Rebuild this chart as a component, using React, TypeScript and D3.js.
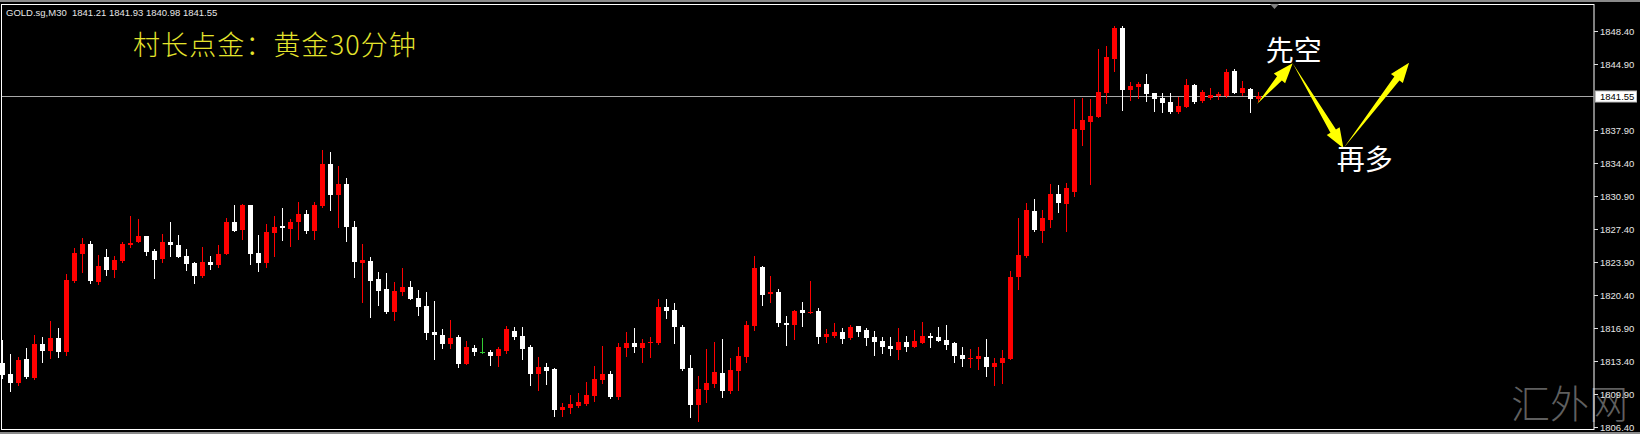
import React from "react";
import * as d3 from "d3";

const W = 1640;
const H = 434;

const headerText = "GOLD.sg,M30  1841.21 1841.93 1840.98 1841.55";
const titleText = "村长点金：黄金30分钟";
const watermarkText = "汇外网";
const currentPrice = 1841.55;
const axisTicks = [1848.4, 1844.9, 1837.9, 1834.4, 1830.9, 1827.4, 1823.9, 1820.4, 1816.9, 1813.4, 1809.9, 1806.4];

const openP = [
  1813.19, 1812.02, 1811.07, 1813.61, 1811.65, 1815.21, 1814.46, 1815.84, 1814.35, 1821.89,
  1824.75, 1825.81, 1821.83, 1824.43, 1823.05, 1824.01, 1825.67, 1826.06, 1826.66, 1825.07,
  1824.19, 1826.06, 1825.71, 1824.54, 1823.83, 1822.42, 1823.90, 1823.55, 1824.78, 1828.14,
  1827.30, 1829.95, 1824.83, 1823.80, 1826.95, 1827.72, 1827.37, 1828.14, 1828.99, 1827.22,
  1829.84, 1834.30, 1831.01, 1832.17, 1827.65, 1823.83, 1824.01, 1822.07, 1821.01, 1818.63,
  1820.69, 1821.28, 1820.12, 1819.24, 1816.48, 1816.16, 1815.21, 1815.95, 1813.05, 1814.78,
  1814.32, 1814.39, 1813.93, 1814.43, 1816.62, 1816.09, 1814.92, 1812.00, 1812.80, 1812.50,
  1808.21, 1808.39, 1808.65, 1808.81, 1809.69, 1811.39, 1812.02, 1809.58, 1814.83, 1815.28,
  1814.81, 1815.28, 1815.28, 1819.10, 1818.81, 1817.04, 1812.69, 1808.74, 1810.33, 1810.96,
  1812.10, 1810.25, 1812.37, 1813.86, 1817.11, 1823.32, 1820.51, 1820.75, 1817.47, 1817.22,
  1818.81, 1818.46, 1818.74, 1815.92, 1816.09, 1816.51, 1815.81, 1817.11, 1816.69, 1815.98,
  1815.56, 1814.99, 1814.57, 1815.45, 1814.92, 1815.34, 1816.05, 1815.92, 1815.63, 1815.34,
  1814.04, 1813.58, 1813.58, 1813.86, 1812.73, 1813.16, 1813.58, 1822.34, 1824.54, 1829.34,
  1827.22, 1828.36, 1831.11, 1830.05, 1831.29, 1837.90, 1838.78, 1839.25, 1841.86, 1845.40,
  1848.75, 1842.14, 1842.43, 1842.78, 1841.79, 1841.33, 1840.90, 1839.84, 1840.31, 1842.67,
  1841.00, 1841.26, 1841.51, 1841.54, 1844.16, 1841.86, 1842.22, 1841.21,
];

const highP = [
  1815.63, 1814.14, 1813.83, 1814.78, 1816.21, 1815.95, 1817.64, 1816.90, 1822.63, 1825.39,
  1826.45, 1826.13, 1824.64, 1825.33, 1824.54, 1826.02, 1828.78, 1828.46, 1826.71, 1825.33,
  1826.92, 1828.18, 1826.77, 1825.25, 1823.93, 1825.53, 1824.54, 1825.71, 1828.54, 1829.95,
  1830.02, 1829.98, 1826.77, 1827.93, 1828.78, 1829.60, 1828.43, 1830.27, 1829.42, 1830.27,
  1835.78, 1835.60, 1834.08, 1832.78, 1828.28, 1825.78, 1824.40, 1822.87, 1822.70, 1821.81,
  1823.23, 1821.89, 1820.96, 1820.72, 1819.80, 1816.76, 1817.70, 1816.21, 1815.56, 1815.10,
  1815.79, 1814.60, 1814.89, 1817.11, 1816.98, 1817.04, 1815.10, 1813.79, 1813.22, 1812.71,
  1808.98, 1809.78, 1810.04, 1811.21, 1812.87, 1814.99, 1812.34, 1815.31, 1816.51, 1816.87,
  1815.77, 1815.98, 1819.95, 1819.98, 1819.52, 1817.22, 1814.04, 1811.81, 1814.64, 1815.45,
  1815.74, 1813.69, 1814.86, 1817.68, 1824.54, 1823.48, 1822.42, 1821.01, 1818.18, 1818.81,
  1819.69, 1821.92, 1818.99, 1816.76, 1817.40, 1816.87, 1817.22, 1817.14, 1816.87, 1816.58,
  1815.92, 1815.92, 1816.87, 1816.05, 1816.69, 1817.57, 1816.40, 1816.98, 1817.22, 1815.45,
  1814.86, 1814.64, 1814.86, 1815.70, 1813.69, 1814.57, 1822.98, 1828.54, 1830.13, 1830.55,
  1829.42, 1832.17, 1832.07, 1832.31, 1841.16, 1841.26, 1841.16, 1846.46, 1846.81, 1848.93,
  1848.93, 1843.02, 1843.02, 1843.84, 1841.83, 1841.86, 1841.79, 1841.37, 1843.28, 1842.78,
  1842.14, 1842.32, 1841.96, 1844.34, 1844.34, 1843.13, 1842.32, 1841.93,
];

const lowP = [
  1811.60, 1810.22, 1810.86, 1811.60, 1811.54, 1813.29, 1813.72, 1813.83, 1814.04, 1821.78,
  1822.84, 1821.68, 1821.57, 1822.52, 1822.31, 1823.90, 1825.53, 1825.99, 1824.64, 1822.17,
  1823.93, 1824.54, 1824.43, 1823.05, 1821.64, 1822.34, 1823.13, 1823.37, 1824.72, 1827.19,
  1826.31, 1823.72, 1822.98, 1823.37, 1824.54, 1826.24, 1825.60, 1826.34, 1826.95, 1826.34,
  1829.77, 1829.42, 1827.58, 1826.16, 1822.34, 1819.69, 1818.04, 1819.34, 1818.46, 1817.75,
  1820.40, 1819.98, 1818.28, 1815.70, 1813.58, 1814.75, 1814.75, 1812.80, 1813.03, 1814.04,
  1814.22, 1812.98, 1812.87, 1814.28, 1815.74, 1813.59, 1810.86, 1810.33, 1810.96, 1807.57,
  1807.57, 1807.86, 1808.52, 1808.74, 1809.16, 1811.02, 1809.48, 1809.34, 1813.93, 1814.39,
  1813.33, 1813.79, 1815.24, 1817.93, 1815.34, 1812.45, 1807.50, 1807.07, 1809.09, 1810.68,
  1809.62, 1809.98, 1810.33, 1813.33, 1816.69, 1819.34, 1819.69, 1817.11, 1815.10, 1815.70,
  1817.11, 1818.44, 1815.28, 1815.45, 1815.92, 1815.28, 1815.70, 1816.05, 1815.10, 1814.04,
  1814.28, 1814.04, 1813.58, 1814.49, 1814.86, 1815.28, 1814.92, 1815.52, 1814.64, 1813.33,
  1812.87, 1812.80, 1812.52, 1811.81, 1810.86, 1811.04, 1813.56, 1821.01, 1824.40, 1827.22,
  1826.06, 1827.65, 1829.24, 1827.22, 1830.90, 1836.31, 1832.17, 1839.23, 1840.80, 1844.19,
  1840.02, 1841.08, 1841.26, 1841.01, 1839.95, 1839.84, 1839.74, 1839.67, 1840.29, 1840.80,
  1840.90, 1841.16, 1841.16, 1841.43, 1841.79, 1841.61, 1839.84, 1840.98,
];

const closeP = [
  1811.91, 1811.07, 1813.51, 1811.71, 1815.21, 1814.46, 1815.84, 1814.35, 1821.99, 1824.86,
  1825.81, 1821.89, 1823.48, 1823.05, 1824.11, 1825.81, 1825.95, 1826.66, 1824.99, 1824.11,
  1826.06, 1825.71, 1824.46, 1823.69, 1822.42, 1823.93, 1823.62, 1824.75, 1828.14, 1827.22,
  1829.95, 1824.75, 1823.83, 1827.05, 1827.58, 1827.48, 1828.14, 1828.99, 1827.22, 1829.95,
  1834.30, 1831.01, 1832.17, 1827.61, 1823.93, 1824.11, 1821.92, 1820.86, 1818.60, 1820.83,
  1821.28, 1820.01, 1819.16, 1816.40, 1816.16, 1815.21, 1815.81, 1813.08, 1814.92, 1814.35,
  1814.32, 1813.93, 1814.64, 1816.76, 1815.95, 1814.65, 1812.00, 1812.80, 1812.34, 1808.21,
  1808.56, 1808.79, 1809.09, 1809.80, 1811.49, 1812.02, 1809.53, 1814.89, 1815.28, 1814.92,
  1815.28, 1815.45, 1819.10, 1818.74, 1816.98, 1812.52, 1808.74, 1810.43, 1811.10, 1812.27,
  1810.25, 1812.45, 1813.93, 1817.22, 1823.30, 1820.40, 1820.72, 1817.40, 1817.22, 1818.74,
  1818.53, 1818.63, 1815.92, 1816.23, 1816.45, 1815.74, 1817.04, 1816.51, 1815.87, 1815.45,
  1814.92, 1814.71, 1815.45, 1814.92, 1815.56, 1816.05, 1815.87, 1815.56, 1815.10, 1813.93,
  1813.58, 1813.75, 1813.93, 1812.73, 1813.22, 1813.69, 1822.34, 1824.64, 1829.42, 1827.30,
  1828.54, 1831.11, 1830.19, 1831.72, 1838.01, 1838.96, 1839.39, 1841.96, 1845.61, 1848.69,
  1842.14, 1842.57, 1842.78, 1841.72, 1841.19, 1840.80, 1839.84, 1840.45, 1842.67, 1840.90,
  1841.93, 1841.61, 1841.72, 1844.09, 1841.86, 1842.32, 1841.16, 1841.55,
];

// annotation path in (bar index, price) units
const arrowPath = [
  { i: 156.8, p: 1840.66 },
  { i: 161.25, p: 1844.97 },
  { i: 167.6, p: 1835.96 },
  { i: 175.8, p: 1845.04 },
];
const labelShort = { text: "先空", i: 157.9, p: 1845.22 };
const labelLong = { text: "再多", i: 166.75, p: 1833.66 };

const PLOT_RIGHT = 1594;
const PLOT_TOP = 4;
const PLOT_BOTTOM = 430;

export default function App() {
  const x = d3.scaleLinear().domain([0, 157]).range([2.67, 1258.67]);
  const y = d3.scaleLinear().domain([1806.4, 1848.4]).range([427, 31]);

  const candles = openP.map((o, i) => {
    const c = closeP[i];
    const h = highP[i];
    const l = lowP[i];
    const left = Math.round(x(i) - 2.5);
    const cx = left + 2.5;
    let color = "#ff0000";
    if (c < o) color = "#ffffff";
    if (c === o) color = "#33cc33";
    const yTop = Math.round(y(Math.max(o, c)));
    const yBot = Math.round(y(Math.min(o, c)));
    const yH = Math.round(y(h));
    const yL = Math.round(y(l));
    return (
      <g key={i}>
        <line x1={cx} x2={cx} y1={yH} y2={yL + 1} stroke={color} strokeWidth={1} />
        {c === o ? (
          <line x1={left} x2={left + 5} y1={yTop + 0.5} y2={yTop + 0.5} stroke={color} strokeWidth={1} />
        ) : (
          <rect x={left} y={yTop} width={5} height={Math.max(1, yBot - yTop)} fill={color} />
        )}
      </g>
    );
  });

  const arrowPoly = (a: { i: number; p: number }, b: { i: number; p: number }) => {
    const x0 = x(a.i), y0 = y(a.p), x1 = x(b.i), y1 = y(b.p);
    const dx = x1 - x0, dy = y1 - y0;
    const len = Math.hypot(dx, dy);
    const ux = dx / len, uy = dy / len;
    const nx = -uy, ny = ux;
    const head = 20, headHalf = 7.5, shaft = 3.2;
    const bx = x1 - ux * head, by = y1 - uy * head;
    const pts = [
      [x0, y0],
      [bx + nx * shaft, by + ny * shaft],
      [bx + nx * headHalf, by + ny * headHalf],
      [x1, y1],
      [bx - nx * headHalf, by - ny * headHalf],
      [bx - nx * shaft, by - ny * shaft],
    ];
    return pts.map((p) => p.join(",")).join(" ");
  };

  const yCur = Math.round(y(currentPrice)) + 0.5;

  return (
    <svg
      width={W}
      height={H}
      style={{ position: "fixed", left: 0, top: 0, background: "#000" }}
    >
      <rect x={0} y={0} width={W} height={H} fill="#000" />
      <rect x={0} y={0} width={W} height={2} fill="#8a8a8a" />
      <rect x={0} y={432} width={W} height={2} fill="#8a8a8a" />

      {/* watermark */}
      <text
        x={1511}
        y={418}
        fill="#5f5f5f"
        fontSize={39}
        fontFamily="'Noto Sans CJK SC', sans-serif"
        fontWeight={300}
      >
        {watermarkText}
      </text>

      {/* plot frame */}
      <rect
        x={1.5}
        y={PLOT_TOP + 0.5}
        width={PLOT_RIGHT - 1.5}
        height={PLOT_BOTTOM - PLOT_TOP - 1}
        fill="none"
        stroke="#ffffff"
        strokeWidth={1}
      />

      {/* current price line */}
      <line x1={2} x2={PLOT_RIGHT} y1={yCur} y2={yCur} stroke="#a8a8a8" strokeWidth={1} />

      {/* shift marker */}
      <polygon points="1270,4 1279,4 1274.5,9" fill="#808080" />

      {candles}

      {/* header */}
      <text
        x={6}
        y={16}
        fill="#e6e6e6"
        fontSize={9.5}
        fontFamily="'Liberation Sans', Arial, sans-serif"
        style={{ whiteSpace: "pre" }}
      >
        {headerText}
      </text>

      {/* title */}
      <text
        x={133}
        y={55}
        fill="#e4e42c"
        fontSize={27}
        letterSpacing={1.1}
        fontFamily="'Noto Sans CJK SC', sans-serif"
        fontWeight={300}
      >
        {titleText}
      </text>

      {/* arrows */}
      {arrowPath.slice(1).map((b, k) => (
        <polygon key={k} points={arrowPoly(arrowPath[k], b)} fill="#ffff00" />
      ))}

      <text
        x={x(labelShort.i)}
        y={y(labelShort.p)}
        fill="#ffffff"
        fontSize={28}
        fontFamily="'Noto Sans CJK SC', sans-serif"
      >
        {labelShort.text}
      </text>
      <text
        x={x(labelLong.i)}
        y={y(labelLong.p)}
        fill="#ffffff"
        fontSize={28}
        fontFamily="'Noto Sans CJK SC', sans-serif"
      >
        {labelLong.text}
      </text>

      {/* right axis */}
      {axisTicks.map((t) => {
        const ty = Math.round(y(t)) + 0.5;
        return (
          <g key={t}>
            <line x1={PLOT_RIGHT} x2={PLOT_RIGHT + 4} y1={ty} y2={ty} stroke="#e0e0e0" />
            <text
              x={1600}
              y={ty + 3.5}
              fill="#e6e6e6"
              fontSize={9.5}
              fontFamily="'Liberation Sans', Arial, sans-serif"
            >
              {t.toFixed(2)}
            </text>
          </g>
        );
      })}

      {/* current price box */}
      <rect x={1595.5} y={yCur - 5.5} width={41} height={11} fill="#ffffff" stroke="#c0c0c0" />
      <text
        x={1600}
        y={yCur + 3.5}
        fill="#000000"
        fontSize={9.5}
        fontFamily="'Liberation Sans', Arial, sans-serif"
      >
        {currentPrice.toFixed(2)}
      </text>
    </svg>
  );
}
